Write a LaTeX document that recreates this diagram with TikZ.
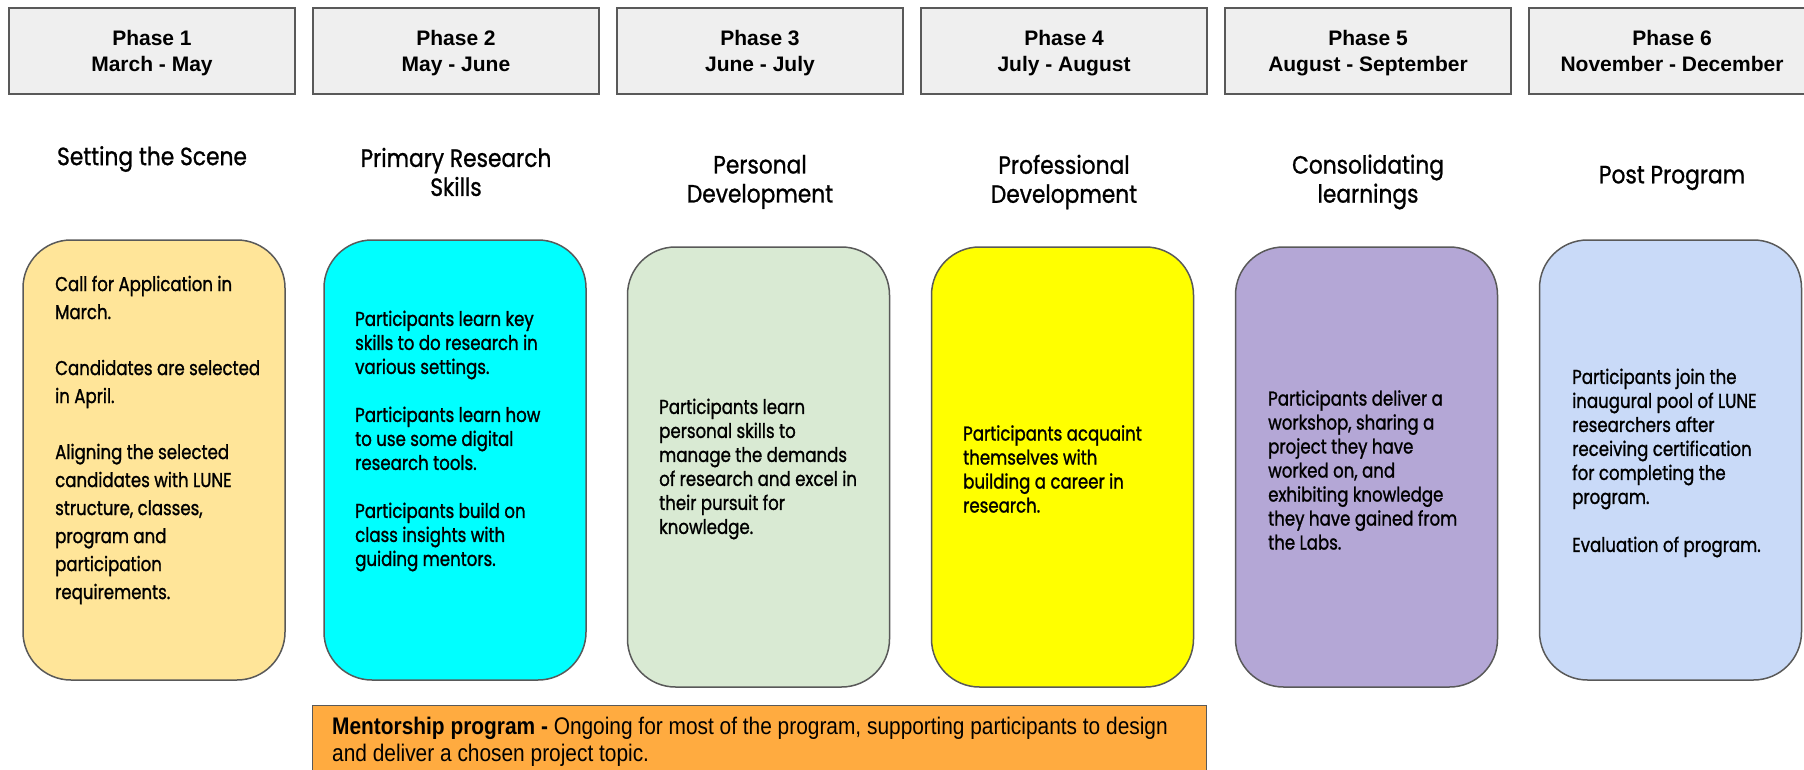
\documentclass[tikz,border=0pt]{standalone}
\usepackage{fontspec}
\setmainfont{Liberation Sans}
\newfontfamily\cardfont{Poppins}[FakeStretch=0.83, FakeBold=1.2]
\newfontfamily\titlefont{Poppins}[FakeStretch=0.87, FakeBold=1.0]
\newfontfamily\narrowfont{Liberation Sans}[FakeStretch=0.87]

\definecolor{boxline}{HTML}{595959}
\definecolor{headfill}{HTML}{EFEFEF}
\definecolor{sceneyellow}{HTML}{FFE599}
\definecolor{skillcyan}{HTML}{00FFFF}
\definecolor{personalgreen}{HTML}{D9EAD3}
\definecolor{careeryellow}{HTML}{FFFF00}
\definecolor{labspurple}{HTML}{B4A7D6}
\definecolor{postblue}{HTML}{C9DAF8}
\definecolor{mentororange}{HTML}{FFAB40}

\tikzset{
    phasebox/.style={draw=boxline, fill=headfill, line width=1.2pt,
        minimum width=286pt, minimum height=86pt, align=center,
        font=\bfseries\fontsize{21}{26}\selectfont},
    stagetitle/.style={align=center, font=\titlefont\fontsize{25}{29}\selectfont},
    card/.style={draw=boxline, line width=1.5pt, rounded corners=48pt,
        minimum width=262pt, minimum height=440pt},
    cardtext/.style={anchor=west, align=left, inner sep=0pt,
        font=\cardfont\fontsize{20}{24}\selectfont},
}

\begin{document}
\begin{tikzpicture}[x=1pt,y=-1pt]

\useasboundingbox (0,0) rectangle (1804,770);

% phase headers, one column every 304pt
\foreach \i/\months in {1/March - May, 2/May - June, 3/June - July,
        4/July - August, 5/August - September, 6/November - December}
    \node[phasebox] (phase\i) at ({152+304*(\i-1)},51)
        {\rule{0pt}{20pt}Phase \i\\\months\vphantom{y}};

% stage titles
\node[stagetitle] (title1) at (152,159) {Setting the Scene};
\node[stagetitle] (title2) at (456,172) {Primary Research\\Skills};
\node[stagetitle] (title3) at (760,182) {Personal\\Development};
\node[stagetitle] (title4) at (1064,182) {Professional\\Development};
\node[stagetitle] (title5) at (1368,182) {Consolidating\\learnings};
\node[stagetitle] (title6) at (1672,178) {Post Program};

% cards
\node[card, fill=sceneyellow] (card1) at (154,460) {};
\node[card, fill=skillcyan] (card2) at (455,460) {};
\node[card, fill=personalgreen] (card3) at (758.5,467) {};
\node[card, fill=careeryellow] (card4) at (1062.5,467) {};
\node[card, fill=labspurple] (card5) at (1366.5,467) {};
\node[card, fill=postblue] (card6) at (1670.5,460) {};

\node[cardtext, font=\cardfont\fontsize{20}{28}\selectfont] (text1) at (55,440)
    {Call for Application in\\March.\\[28pt]
     Candidates are selected\\in April.\\[28pt]
     Aligning the selected\\candidates with LUNE\\structure, classes,\\
     program and\\participation\\requirements.};
\node[cardtext] (text2) at (355,441)
    {Participants learn key\\skills to do research in\\various settings.\\[24pt]
     Participants learn how\\to use some digital\\research tools.\\[24pt]
     Participants build on\\class insights with\\guiding mentors.};
\node[cardtext] (text3) at (659,469)
    {Participants learn\\personal skills to\\manage the demands\\
     of research and excel in\\their pursuit for\\knowledge.};
\node[cardtext] (text4) at (963,469)
    {Participants acquaint\\themselves with\\building a career in\\research.};
\node[cardtext] (text5) at (1268,470)
    {Participants deliver a\\workshop, sharing a\\project they have\\
     worked on, and\\exhibiting knowledge\\they have gained from\\the Labs.};
\node[cardtext] (text6) at (1572,463)
    {Participants join the\\inaugural pool of LUNE\\researchers after\\
     receiving certification\\for completing the\\program.\\[24pt]
     Evaluation of program.};

% mentorship band, runs off the bottom edge
\node[draw=boxline, fill=mentororange, line width=1.2pt, anchor=north west,
    minimum width=894pt, minimum height=90pt] (mentor) at (312,705) {};
\node[cardtext, font=\narrowfont\fontsize{24}{27}\selectfont] (mentortext) at (332,741.5)
    {\textbf{Mentorship program -} Ongoing for most of the program, supporting participants to design\\
     and deliver a chosen project topic.};

\end{tikzpicture}
\end{document}
